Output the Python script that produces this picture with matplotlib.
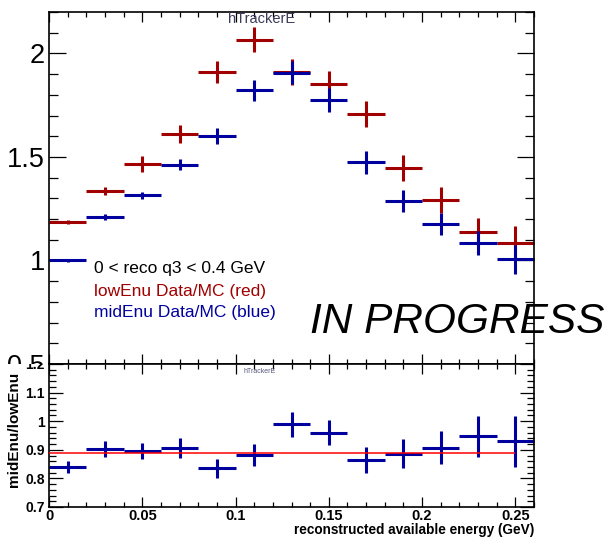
import matplotlib
matplotlib.use("Agg")
import matplotlib.pyplot as plt
import numpy as np
from matplotlib.patches import Rectangle
from matplotlib.ticker import MultipleLocator, FixedLocator
from matplotlib.transforms import Bbox, TransformedBbox

plt.rcParams['font.family'] = ['Liberation Sans', 'DejaVu Sans']

# bins of reconstructed available energy (GeV)
bin_lo = [0.00, 0.02, 0.04, 0.06, 0.08, 0.10, 0.12, 0.14, 0.16, 0.18, 0.20, 0.22, 0.24]
bin_width = 0.02

# Data/MC ratios
low_enu = [1.184, 1.337, 1.466, 1.612, 1.909, 2.067, 1.910, 1.854, 1.708, 1.446, 1.293, 1.138, 1.085]
low_err = [0.010, 0.020, 0.040, 0.043, 0.054, 0.060, 0.062, 0.062, 0.062, 0.062, 0.062, 0.066, 0.080]
mid_enu = [1.000, 1.208, 1.314, 1.463, 1.601, 1.821, 1.907, 1.774, 1.474, 1.288, 1.178, 1.085, 1.005]
mid_err = [0.008, 0.015, 0.015, 0.025, 0.040, 0.050, 0.057, 0.058, 0.055, 0.053, 0.053, 0.058, 0.070]

# midEnu / lowEnu
ratio = [0.841, 0.903, 0.897, 0.907, 0.836, 0.882, 0.989, 0.960, 0.865, 0.886, 0.907, 0.947, 0.929]
ratio_err = [0.021, 0.027, 0.028, 0.034, 0.033, 0.038, 0.043, 0.045, 0.045, 0.050, 0.057, 0.072, 0.090]
fit_value = 0.889
fit_range = [0.0, 0.25]

x_ticks = [0.0, 0.05, 0.10, 0.15, 0.20, 0.25]
x_labels = ['0', '0.05', '0.1', '0.15', '0.2', '0.25']
top_yticks = [0.5, 1.0, 1.5, 2.0]
top_ylabels = ['0.5', '1', '1.5', '2']
bot_yticks = [0.7, 0.8, 0.9, 1.0, 1.1, 1.2]
bot_ylabels = ['0.7', '0.8', '0.9', '1', '1.1', '1.2']

red = '#a00000'
blue = '#00009e'

centers = np.array(bin_lo) + bin_width / 2

fig = plt.figure(figsize=(6.09, 5.37), dpi=100)
ax1 = fig.add_axes([0.0805, 0.3222, 0.7964, 0.6555], zorder=0)
ax2 = fig.add_axes([0.0805, 0.0559, 0.7964, 0.2663], zorder=2)

def hist_points(ax, y, yerr, color):
    ax.errorbar(centers, y, xerr=bin_width / 2, yerr=yerr, fmt='none',
                ecolor=color, elinewidth=2.2, capsize=0, clip_on=False)

# upper pad
hist_points(ax1, low_enu, low_err, red)
hist_points(ax1, mid_enu, mid_err, blue)
ax1.set_xlim(0, 0.26)
ax1.set_ylim(0.5, 2.2)
ax1.xaxis.set_major_locator(FixedLocator(x_ticks))
ax1.xaxis.set_minor_locator(MultipleLocator(0.01))
ax1.yaxis.set_major_locator(FixedLocator(top_yticks))
ax1.yaxis.set_minor_locator(MultipleLocator(0.1))
ax1.tick_params(axis='both', which='both', direction='in', top=True, right=True,
                width=0.9)
ax1.tick_params(axis='x', which='major', length=7.2, labelbottom=False)
ax1.tick_params(axis='x', which='minor', length=3.6)
ax1.tick_params(axis='y', which='major', length=12.5, labelsize=19.5, pad=3)
ax1.tick_params(axis='y', which='minor', length=6.3)
ax1.set_yticklabels(top_ylabels)
for s in ax1.spines.values():
    s.set_linewidth(1.2)

fig.text(228 / 609, 1 - 12 / 537, 'hTrackerE', fontsize=10.5, color='#3a3a5a',
         ha='left', va='top', zorder=1)

ax1.text(0.093, 0.270, '0 < reco q3 < 0.4 GeV', transform=ax1.transAxes,
         fontsize=12.5, color='black', va='center')
ax1.text(0.093, 0.207, 'lowEnu Data/MC (red)', transform=ax1.transAxes,
         fontsize=12.5, color=red, va='center')
ax1.text(0.093, 0.145, 'midEnu Data/MC (blue)', transform=ax1.transAxes,
         fontsize=12.5, color=blue, va='center')

# white pad background hides what spills below the upper pad
fig.add_artist(Rectangle((0, 0), 1, 0.3222, transform=fig.transFigure,
                         facecolor='white', edgecolor='none', zorder=1))

# lower pad
hist_points(ax2, ratio, ratio_err, blue)
ax2.hlines(fit_value, fit_range[0], fit_range[1], color='red', lw=1.1, zorder=3)
ax2.set_xlim(0, 0.26)
ax2.set_ylim(0.7, 1.2)
ax2.xaxis.set_major_locator(FixedLocator(x_ticks))
ax2.xaxis.set_minor_locator(MultipleLocator(0.01))
ax2.yaxis.set_major_locator(FixedLocator(bot_yticks))
ax2.yaxis.set_minor_locator(MultipleLocator(0.02))
ax2.tick_params(axis='both', which='both', direction='in', top=True, right=True,
                width=0.9)
ax2.tick_params(axis='x', which='major', length=7.2, labelsize=10.5, pad=1.5)
ax2.tick_params(axis='x', which='minor', length=3.6)
ax2.tick_params(axis='y', which='major', length=10, labelsize=10, pad=3)
ax2.tick_params(axis='y', which='minor', length=5)
ax2.set_xticklabels(x_labels, fontweight='bold')
ax2.set_yticklabels(bot_ylabels, fontweight='bold')
for s in ax2.spines.values():
    s.set_linewidth(1.2)

# clip the lower pad's labels at the pad boundary
pad_box = TransformedBbox(Bbox([[0, 0], [1, 0.3222]]), fig.transFigure)
for t in ax2.yaxis.get_major_ticks():
    t.label1.set_clip_box(pad_box)
    t.label1.set_clip_on(True)

ax2.set_xlabel('reconstructed available energy (GeV)', fontsize=9.8,
               fontweight='bold', loc='right', labelpad=0)
ax2.set_ylabel('midEnu/lowEnu', fontsize=11, fontweight='bold')
ax2.yaxis.set_label_coords(-0.058, 0.54)

fig.text(243 / 609, 1 - 368 / 537, 'hTrackerE', fontsize=5, color='#55557a',
         ha='left', va='top', zorder=3)

fig.text(310 / 609, 1 - 322 / 537, 'IN PROGRESS', fontsize=30.5, style='italic',
         color='black', ha='left', va='center', zorder=4)

fig.savefig('out.png', dpi=100)
